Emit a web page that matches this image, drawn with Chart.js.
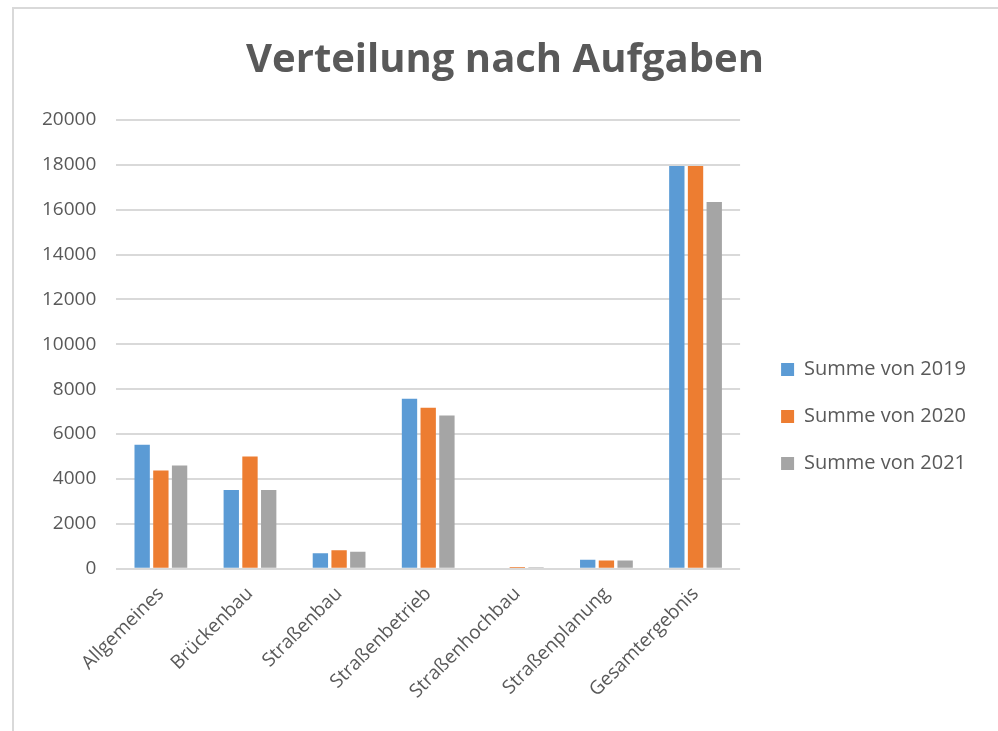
<!DOCTYPE html>
<html>
<head>
<meta charset="utf-8">
<script src="https://cdn.jsdelivr.net/npm/chart.js@4/dist/chart.umd.min.js"></script>
<style>
  html, body { margin:0; padding:0; background:#fff; }
  #frame { position:absolute; left:12px; top:7px; right:0; bottom:0; border-top:2px solid #d9d9d9; border-left:2px solid #d9d9d9; }
  #wrap { position:absolute; left:0; top:0; width:998px; height:731px; }
</style>
</head>
<body>
<div id="frame"></div>
<div id="wrap"><canvas id="c"></canvas></div>
<script>
// ── data ──
const CATEGORIES = ['Allgemeines','Brückenbau','Straßenbau','Straßenbetrieb','Straßenhochbau','Straßenplanung','Gesamtergebnis'];
const SUM_2019 = [5520, 3510, 690, 7575, 0, 400, 17950];
const SUM_2020 = [4375, 5000, 820, 7170, 75, 360, 17950];
const SUM_2021 = [4600, 3510, 760, 6830, 70, 360, 16340];
const Y_TICKS = { min: 0, max: 20000, step: 2000 };

const COLORS = { c2019:'#5B9BD5', c2020:'#ED7D31', c2021:'#A5A5A5', grid:'#d9d9d9', text:'#595959' };
const FONT = "'Open Sans', sans-serif";

// nudge title + legend boxes to where Excel put them (plot area stays as laid out)
const nudgeBoxes = {
  id: 'nudgeBoxes',
  afterLayout(chart) {
    const lg = chart.legend, tb = chart.titleBlock;
    if (lg) { lg.left += 14; lg.right += 14; lg.top += 62; lg.bottom += 62; }
    if (tb) { tb.left += 13; tb.right += 13; }
  }
};

new Chart(document.getElementById('c').getContext('2d'), {
  type: 'bar',
  data: {
    labels: CATEGORIES,
    datasets: [
      { label: 'Summe von 2019', data: SUM_2019, backgroundColor: COLORS.c2019 },
      { label: 'Summe von 2020', data: SUM_2020, backgroundColor: COLORS.c2020 },
      { label: 'Summe von 2021', data: SUM_2021, backgroundColor: COLORS.c2021 }
    ]
  },
  plugins: [nudgeBoxes],
  options: {
    responsive: true, maintainAspectRatio: false, animation: false,
    datasets: { bar: { categoryPercentage: 0.63, barPercentage: 0.82 } },
    layout: { padding: { left: 22, right: 36, top: 0, bottom: 22 } },
    plugins: {
      title: { display: true, text: 'Verteilung nach Aufgaben', color: COLORS.text,
        font: { family: FONT, size: 40, weight: 'bold' }, padding: { top: 37, bottom: 35 } },
      legend: { position: 'right',
        labels: { color: COLORS.text, font: { family: FONT, size: 20 }, boxWidth: 13, boxHeight: 13, padding: 27 } },
      tooltip: { enabled: false }
    },
    scales: {
      x: {
        grid: { display: false }, border: { display: false },
        ticks: { color: COLORS.text, font: { family: FONT, size: 19 }, minRotation: 45, maxRotation: 45, padding: 6 }
      },
      y: {
        min: Y_TICKS.min, max: Y_TICKS.max,
        grid: { color: COLORS.grid, lineWidth: 2, drawTicks: false }, border: { display: false },
        ticks: { stepSize: Y_TICKS.step, color: COLORS.text, font: { family: FONT, size: 19 }, padding: 20,
          callback: v => String(v) }
      }
    }
  }
});
</script>
</body>
</html>
